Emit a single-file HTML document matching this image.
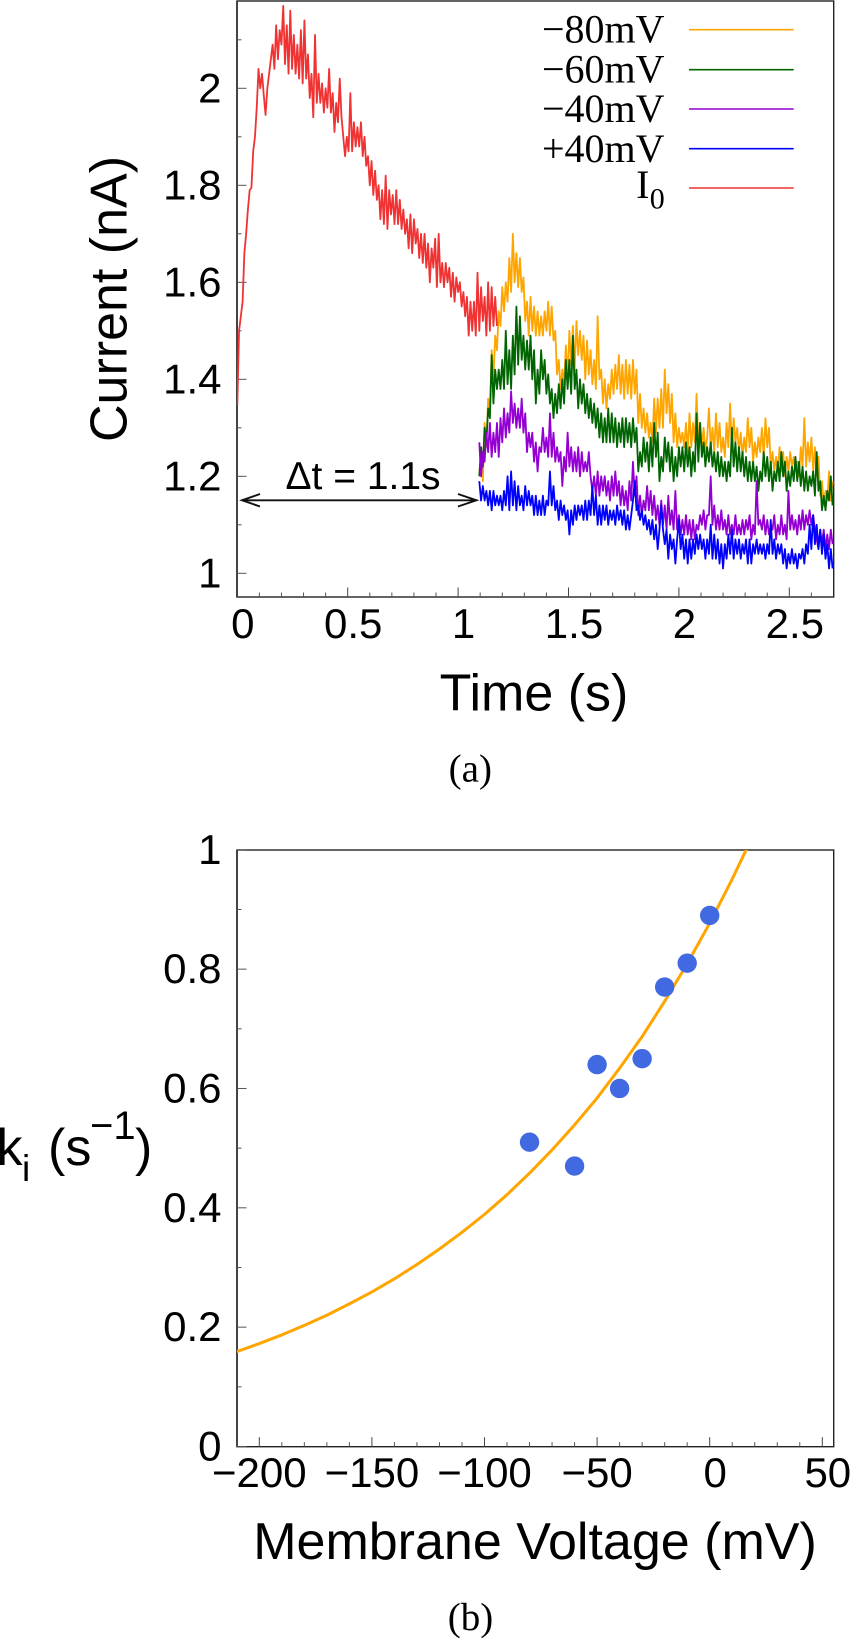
<!DOCTYPE html>
<html lang="en">
<head>
<meta charset="utf-8">
<title>Current traces and rate constant</title>
<style>
html,body{margin:0;padding:0;background:#fff;width:850px;height:1639px;overflow:hidden}
svg{display:block}
.sans{font-family:"Liberation Sans",sans-serif;fill:#000}
.serif{font-family:"Liberation Serif",serif;fill:#000}
.tick{font-size:42px}
.axis{font-size:52px}
.leg{font-size:40px;text-anchor:end}
</style>
</head>
<body>
<svg id="figure" xmlns="http://www.w3.org/2000/svg" width="850" height="1639" viewBox="0 0 850 1639">
<defs>
<clipPath id="clip-a"><rect x="237" y="1" width="597" height="596"/></clipPath>
<clipPath id="clip-b"><rect x="237" y="850" width="597" height="597"/></clipPath>
</defs>
<g id="panel-a"></g>
<g id="panel-b"></g>

<text class="sans axis" transform="translate(126.7 299) rotate(-90)" text-anchor="middle">Current (nA)</text>
<text class="sans axis" x="534" y="710.7" text-anchor="middle">Time (s)</text>
<text class="serif" x="470.3" y="781.5" font-size="39" text-anchor="middle">(a)</text>

<g>
<text class="serif leg" x="664.5" y="42.7">−80mV</text>
<line x1="689" x2="793.7" y1="29.7" y2="29.7" stroke="#ffa500" stroke-width="1.6"/>
<text class="serif leg" x="664.5" y="82.4">−60mV</text>
<line x1="689" x2="793.7" y1="69.7" y2="69.7" stroke="#006400" stroke-width="1.6"/>
<text class="serif leg" x="664.5" y="122.2">−40mV</text>
<line x1="689" x2="793.7" y1="109" y2="109" stroke="#9400d3" stroke-width="1.6"/>
<text class="serif leg" x="664.5" y="162">+40mV</text>
<line x1="689" x2="793.7" y1="148.7" y2="148.7" stroke="#0000ff" stroke-width="1.6"/>
<text class="serif" x="649.5" y="198" font-size="40" text-anchor="end">I</text>
<text class="serif" x="664.7" y="208.5" font-size="30" text-anchor="end">0</text>
<line x1="689" x2="793.7" y1="188" y2="188" stroke="#f03232" stroke-width="1.6"/>
</g>

<g>
<text class="sans" x="285.5" y="489" font-size="39">Δt = 1.1s</text>
<line x1="242" x2="476" y1="500.3" y2="500.3" stroke="#111" stroke-width="1.9"/>
<path d="M260 494 L242 500.3 L260 506.5" fill="none" stroke="#111" stroke-width="1.9"/>
<path d="M458 494 L476.5 500.3 L458 506.5" fill="none" stroke="#111" stroke-width="1.9"/>
</g>

<text class="sans" font-size="52"><tspan x="-3.5" y="1165">k</tspan><tspan x="22" y="1181" font-size="37">i</tspan><tspan x="48" y="1165">(s</tspan><tspan x="90" y="1139" font-size="40">−1</tspan><tspan x="135" y="1165">)</tspan></text>
<text class="sans axis" x="535" y="1559" text-anchor="middle">Membrane Voltage (mV)</text>
<text class="serif" x="470.5" y="1630" font-size="39" text-anchor="middle">(b)</text>
</svg>

<script>
// ---- Panel (a) data: sampled traces, nA ----
const traceStep = 0.008;
const i0Start = 0;
const stepStart = 1.096;
const i0Values = [
1.347,1.50,1.53,1.56,1.66,1.70,1.75,1.79,1.795,1.87,1.90,1.96,2.04,
2.00,2.03,1.985,1.945,2.00,2.03,2.06,2.09,2.04,2.13,2.06,2.12,2.09,2.17,2.05,2.13,2.03,
2.16,2.04,2.11,2.03,2.09,2.02,2.12,2.01,2.14,2.02,2.07,1.98,2.03,1.94,2.11,1.97,2.03,1.97,2.01,1.95,
2.00,1.96,2.04,1.95,1.99,1.91,1.97,1.93,2.02,1.94,1.90,1.86,1.90,1.87,1.99,1.87,1.93,1.88,1.92,1.88,
1.93,1.86,1.90,1.84,1.86,1.80,1.85,1.78,1.83,1.77,1.80,1.73,1.79,1.72,1.82,1.71,1.79,1.74,1.78,1.72,
1.79,1.72,1.77,1.71,1.75,1.70,1.73,1.67,1.74,1.66,1.73,1.68,1.71,1.65,1.70,1.64,1.70,1.63,1.68,1.60,
1.67,1.63,1.69,1.59,1.70,1.60,1.64,1.59,1.64,1.60,1.63,1.57,1.62,1.56,1.61,1.58,1.60,1.55,1.58,1.53,
1.57,1.49,1.56,1.50,1.56,1.49,1.62,1.50,1.59,1.52,1.57,1.49,1.60,1.50,1.59,1.51,1.57,1.51];
const minus80Values = [
1.20,1.25,1.19,1.31,1.26,1.36,1.33,1.46,1.40,1.49,
1.46,1.54,1.51,1.59,1.54,1.60,1.56,1.65,1.58,1.70,
1.60,1.66,1.59,1.65,1.58,1.61,1.52,1.56,1.49,1.57,
1.50,1.55,1.49,1.54,1.49,1.53,1.49,1.54,1.50,1.56,
1.49,1.55,1.48,1.50,1.41,1.44,1.38,1.42,1.39,1.47,
1.40,1.50,1.43,1.51,1.42,1.52,1.45,1.50,1.44,1.49,
1.40,1.48,1.41,1.46,1.39,1.44,1.38,1.53,1.40,1.42,
1.35,1.40,1.34,1.39,1.36,1.42,1.37,1.43,1.38,1.45,
1.37,1.43,1.36,1.44,1.37,1.43,1.36,1.44,1.37,1.42,
1.31,1.37,1.30,1.34,1.29,1.33,1.28,1.31,1.27,1.36,
1.29,1.36,1.30,1.38,1.30,1.42,1.33,1.39,1.31,1.37,
1.27,1.33,1.26,1.30,1.27,1.29,1.26,1.31,1.25,1.33,
1.26,1.31,1.27,1.37,1.27,1.31,1.26,1.30,1.25,1.28,
1.34,1.26,1.30,1.25,1.33,1.26,1.31,1.25,1.28,1.24,
1.31,1.26,1.35,1.25,1.32,1.27,1.30,1.25,1.29,1.24,
1.28,1.25,1.32,1.26,1.30,1.23,1.27,1.24,1.28,1.25,
1.30,1.24,1.32,1.26,1.30,1.22,1.25,1.21,1.24,1.21,
1.26,1.21,1.25,1.20,1.24,1.21,1.25,1.22,1.24,1.21,
1.23,1.20,1.26,1.22,1.32,1.22,1.27,1.23,1.28,1.21,
1.26,1.20,1.24,1.16,1.19,1.14,1.17,1.15,1.21,1.15,1.19];
const minus60Values = [
1.20,1.26,1.22,1.30,1.27,1.34,1.32,1.45,1.35,1.42,
1.38,1.42,1.38,1.44,1.38,1.50,1.39,1.46,1.38,1.49,
1.41,1.55,1.43,1.53,1.44,1.49,1.42,1.48,1.42,1.49,
1.40,1.46,1.35,1.42,1.37,1.46,1.40,1.44,1.37,1.41,
1.35,1.38,1.32,1.37,1.33,1.39,1.34,1.40,1.35,1.44,
1.38,1.44,1.37,1.49,1.38,1.42,1.34,1.40,1.35,1.39,
1.33,1.37,1.32,1.36,1.31,1.35,1.30,1.34,1.28,1.33,
1.27,1.32,1.27,1.34,1.27,1.33,1.27,1.32,1.26,1.31,
1.27,1.32,1.26,1.32,1.27,1.31,1.26,1.32,1.27,1.30,
1.21,1.25,1.22,1.28,1.23,1.27,1.21,1.28,1.22,1.31,
1.24,1.29,1.19,1.24,1.21,1.28,1.23,1.27,1.21,1.26,
1.19,1.24,1.20,1.26,1.22,1.26,1.21,1.27,1.22,1.26,
1.20,1.25,1.21,1.33,1.23,1.31,1.24,1.27,1.22,1.26,
1.23,1.27,1.22,1.25,1.21,1.25,1.20,1.24,1.20,1.23,
1.19,1.23,1.20,1.30,1.22,1.27,1.21,1.26,1.21,1.25,
1.20,1.24,1.19,1.23,1.19,1.23,1.19,1.22,1.17,1.21,
1.19,1.25,1.20,1.24,1.19,1.23,1.17,1.21,1.19,1.23,
1.19,1.25,1.20,1.23,1.17,1.21,1.18,1.22,1.19,1.24,
1.19,1.23,1.18,1.22,1.17,1.21,1.17,1.20,1.18,1.21,
1.16,1.25,1.17,1.19,1.13,1.16,1.13,1.17,1.15,1.20,1.14];
const minus40Values = [
1.27,1.20,1.25,1.23,1.29,1.25,1.31,1.24,1.29,1.25,
1.31,1.24,1.32,1.27,1.34,1.28,1.33,1.29,1.375,1.31,
1.35,1.30,1.34,1.30,1.36,1.29,1.33,1.25,1.29,1.26,
1.29,1.23,1.27,1.21,1.26,1.25,1.30,1.25,1.28,1.24,
1.33,1.24,1.29,1.23,1.26,1.23,1.25,1.18,1.24,1.21,
1.29,1.22,1.26,1.21,1.25,1.21,1.26,1.20,1.25,1.21,
1.23,1.21,1.25,1.20,1.17,1.20,1.16,1.21,1.16,1.20,
1.17,1.20,1.16,1.19,1.15,1.20,1.16,1.21,1.16,1.19,
1.14,1.18,1.14,1.17,1.13,1.19,1.15,1.23,1.16,1.20,
1.12,1.16,1.12,1.15,1.13,1.18,1.13,1.17,1.12,1.16,
1.11,1.14,1.10,1.15,1.10,1.14,1.09,1.16,1.10,1.13,
1.09,1.17,1.09,1.12,1.08,1.11,1.08,1.12,1.08,1.11,
1.07,1.11,1.07,1.10,1.09,1.12,1.10,1.13,1.09,1.12,
1.12,1.20,1.10,1.14,1.09,1.12,1.09,1.13,1.09,1.11,
1.08,1.12,1.08,1.10,1.08,1.12,1.08,1.10,1.08,1.11,
1.08,1.11,1.09,1.12,1.07,1.10,1.08,1.19,1.10,1.11,
1.09,1.12,1.08,1.11,1.08,1.10,1.09,1.12,1.07,1.10,
1.08,1.12,1.08,1.10,1.07,1.17,1.09,1.12,1.09,1.11,
1.08,1.12,1.09,1.13,1.09,1.12,1.10,1.13,1.10,1.12,
1.09,1.07,1.05,1.09,1.06,1.09,1.05,1.08,1.05,1.09,1.06];
const plus40Values = [
1.19,1.15,1.18,1.15,1.17,1.14,1.17,1.13,1.17,1.14,
1.16,1.14,1.16,1.13,1.17,1.14,1.20,1.13,1.21,1.14,
1.19,1.13,1.18,1.14,1.16,1.13,1.18,1.14,1.17,1.14,
1.16,1.12,1.16,1.12,1.15,1.12,1.16,1.12,1.15,1.14,
1.21,1.14,1.18,1.13,1.15,1.11,1.15,1.12,1.14,1.11,
1.13,1.08,1.13,1.10,1.14,1.11,1.14,1.12,1.14,1.11,
1.15,1.11,1.15,1.12,1.18,1.12,1.16,1.10,1.14,1.10,
1.14,1.11,1.14,1.10,1.13,1.11,1.13,1.10,1.14,1.11,
1.13,1.10,1.13,1.09,1.12,1.09,1.12,1.15,1.19,1.13,
1.14,1.11,1.13,1.10,1.12,1.09,1.11,1.08,1.11,1.07,
1.10,1.05,1.09,1.14,1.09,1.06,1.09,1.03,1.08,1.05,
1.07,1.02,1.07,1.11,1.05,1.08,1.03,1.07,1.02,1.07,
1.03,1.07,1.04,1.08,1.05,1.08,1.05,1.07,1.03,1.07,
1.04,1.10,1.03,1.08,1.03,1.07,1.02,1.06,1.01,1.06,
1.03,1.08,1.04,1.09,1.03,1.07,1.04,1.07,1.03,1.06,
1.04,1.07,1.02,1.07,1.02,1.06,1.04,1.07,1.04,1.06,
1.04,1.06,1.03,1.06,1.04,1.11,1.04,1.07,1.03,1.06,
1.04,1.06,1.02,1.05,1.01,1.04,1.02,1.05,1.02,1.04,
1.01,1.04,1.03,1.05,1.02,1.06,1.04,1.10,1.05,1.12,
1.06,1.10,1.05,1.09,1.04,1.08,1.03,1.06,1.01,1.05,1.01];
const aXTickValues = [0,0.5,1,1.5,2,2.5];
const aXTickLabels = ['0','0.5','1','1.5','2','2.5'];
const aYTickValues = [1,1.2,1.4,1.6,1.8,2];
const aYTickLabels = ['1','1.2','1.4','1.6','1.8','2'];
const aXMinorValues = [0.1,0.2,0.3,0.4,0.6,0.7,0.8,0.9,1.1,1.2,1.3,1.4,1.6,1.7,1.8,1.9,2.1,2.2,2.3,2.4,2.6];
const aYMinorValues = [1.1,1.3,1.5,1.7,1.9,2.1];

// ---- Panel (b) data ----
const measuredVoltages = [-80,-60,-50,-40,-30,-20,-10,0];
const measuredRates = [0.51,0.47,0.64,0.60,0.65,0.77,0.81,0.89];
const fitVoltages = [-210,-200,-190,-180,-170,-160,-150,-140,-130,-120,-110,-100,-90,-80,-70,-60,-50,-40,-30,-20,-10,0,10,20];
const fitRates = [0.159,0.1725,0.187,0.203,0.220,0.239,0.259,0.281,0.305,0.331,0.359,0.389,0.422,0.458,0.497,0.539,0.584,0.634,0.687,0.746,0.809,0.877,0.951,1.03];
const bXTickValues = [-200,-150,-100,-50,0,50];
const bXTickLabels = ['−200','−150','−100','−50','0','50'];
const bYTickValues = [0,0.2,0.4,0.6,0.8,1];
const bYTickLabels = ['0','0.2','0.4','0.6','0.8','1'];
const bXMinorValues = [-190,-180,-170,-160,-140,-130,-120,-110,-90,-80,-70,-60,-40,-30,-20,-10,10,20,30,40];
const bYMinorValues = [0.1,0.3,0.5,0.7,0.9];

// ---- Axis functions ----
function xA(t){return 237.3+220.8*t;}
function yA(v){return 573.3-485*(v-1);}
function xB(v){return 709.7+2.252*v;}
function yB(k){return 1446.5-596.7*k;}

const NS='http://www.w3.org/2000/svg';
function make(parent,tag,attrs,text){
  const el=document.createElementNS(NS,tag);
  for(const k in attrs){el.setAttribute(k,attrs[k]);}
  if(text!==undefined){el.textContent=text;}
  parent.appendChild(el);
  return el;
}
function tracePath(start,values){
  let d='';
  for(let i=0;i<values.length;i++){
    d+=(i?'L':'M')+xA(start+i*traceStep).toFixed(2)+' '+yA(values[i]).toFixed(2);
  }
  return d;
}

function drawFrame(g,left,top,right,bottom,namePrefix){
  let el=make(g,'rect',{x:left,y:top,width:right-left,height:bottom-top,fill:'#fff',stroke:'#222','stroke-width':1.4});
  
  
  el=make(g,'line',{x1:left,x2:left,y1:top,y2:bottom,stroke:'#444','stroke-width':2});
  
  
}

function drawTicks(g,prefix,xFn,yFn,xVals,xLabs,yVals,yLabs,xMinor,yMinor,left,bottom,xBase){
  xVals.forEach(function(v,i){
    const x=xFn(v);
    const tick=make(g,'line',{x1:x,x2:x,y1:bottom,y2:bottom-9.5,stroke:'#444','stroke-width':1});
    
    
    const off=xLabs[i].charAt(0)==='−'?0:5.5;
    const lab=make(g,'text',{x:x+off,y:xBase,'text-anchor':'middle','class':'sans tick'},xLabs[i]);
    
    
  });
  yVals.forEach(function(v,i){
    const y=yFn(v);
    const tick=make(g,'line',{x1:left,x2:left+9.5,y1:y,y2:y,stroke:'#555','stroke-width':1});
    
    
    const lab=make(g,'text',{x:221.5,y:y+14,'text-anchor':'end','class':'sans tick'},yLabs[i]);
    
    
  });
  xMinor.forEach(function(v){
    const x=xFn(v);
    const tick=make(g,'line',{x1:x,x2:x,y1:bottom,y2:bottom-4.5,stroke:'#555','stroke-width':1});
    
    
  });
  yMinor.forEach(function(v){
    const y=yFn(v);
    const tick=make(g,'line',{x1:left,x2:left+4.5,y1:y,y2:y,stroke:'#555','stroke-width':1});
    
    
  });
}

// ---- Panel (a) ----
const gA=document.getElementById('panel-a');
drawFrame(gA,237,1,833.7,597,'panel-a');
drawTicks(gA,'panel-a',xA,yA,aXTickValues,aXTickLabels,aYTickValues,aYTickLabels,aXMinorValues,aYMinorValues,237,597,638);
const tracesA=make(gA,'g',{'clip-path':'url(#clip-a)',fill:'none','stroke-width':1.8,'stroke-linejoin':'round'});



const line80=make(tracesA,'path',{d:tracePath(stepStart,minus80Values),stroke:'#ffa500'});


const line60=make(tracesA,'path',{d:tracePath(stepStart,minus60Values),stroke:'#006400'});


const line40=make(tracesA,'path',{d:tracePath(stepStart,minus40Values),stroke:'#9400d3'});


const linePlus40=make(tracesA,'path',{d:tracePath(stepStart,plus40Values),stroke:'#0000ff'});


const lineI0=make(tracesA,'path',{d:tracePath(i0Start,i0Values),stroke:'#f03232'});



// ---- Panel (b) ----
const gB=document.getElementById('panel-b');
drawFrame(gB,237,850,833.7,1446.7,'panel-b');
drawTicks(gB,'panel-b',xB,yB,bXTickValues,bXTickLabels,bYTickValues,bYTickLabels,bXMinorValues,bYMinorValues,237,1446.7,1487);
const marksB=make(gB,'g',{'clip-path':'url(#clip-b)'});


let fitD='';
fitVoltages.forEach(function(v,i){
  fitD+=(i?'L':'M')+xB(v).toFixed(2)+' '+yB(fitRates[i]).toFixed(2);
});
const fit=make(marksB,'path',{d:fitD,fill:'none',stroke:'#ffa500','stroke-width':3,'stroke-linejoin':'round'});


measuredVoltages.forEach(function(v,i){
  const c=make(marksB,'circle',{cx:xB(v),cy:yB(measuredRates[i]),r:9.7,fill:'#4169e1'});
  
  
});
</script>
</body>
</html>
